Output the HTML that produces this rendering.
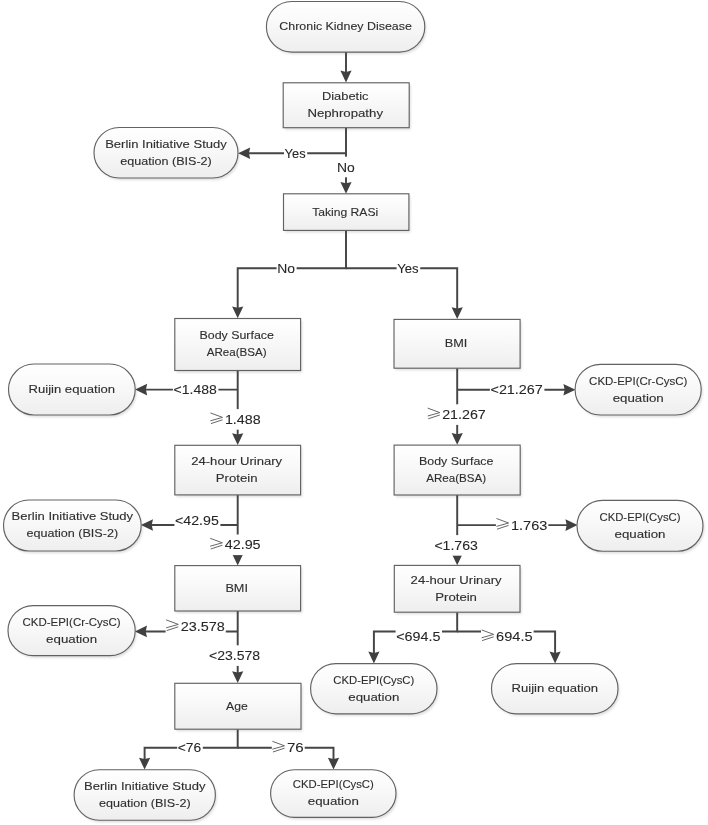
<!DOCTYPE html>
<html><head><meta charset="utf-8"><title>Flowchart</title>
<style>
html,body{margin:0;padding:0;background:#fff;}
body{width:708px;height:825px;overflow:hidden;font-family:"Liberation Sans",sans-serif;}
svg{display:block;}
svg text{font-family:"Liberation Sans",sans-serif;}
</style></head><body>
<svg width="708" height="825" viewBox="0 0 708 825">
<defs>
<linearGradient id="g" x1="0" y1="0" x2="0" y2="1"><stop offset="0" stop-color="#ffffff"/><stop offset="0.35" stop-color="#fafafa"/><stop offset="1" stop-color="#eeeeee"/></linearGradient>
<filter id="soft" x="0" y="0" width="100%" height="100%" filterUnits="userSpaceOnUse"><feGaussianBlur stdDeviation="0.38"/></filter>
<filter id="sh" x="-10%" y="-15%" width="125%" height="140%"><feGaussianBlur stdDeviation="1.1"/></filter>
</defs>
<rect width="708" height="825" fill="#fff"/>
<g filter="url(#soft)">

<g fill="#000" opacity="0.12" filter="url(#sh)">
<rect x="268.0" y="3.7" width="158.4" height="50.6" rx="25.3"/>
<rect x="284.8" y="85.0" width="126.0" height="44.9" rx="0.0"/>
<rect x="95.6" y="129.7" width="144.0" height="50.5" rx="25.2"/>
<rect x="285.1" y="196.0" width="125.4" height="36.6" rx="0.0"/>
<rect x="176.4" y="320.7" width="125.8" height="52.0" rx="0.0"/>
<rect x="395.6" y="321.6" width="126.1" height="48.8" rx="0.0"/>
<rect x="10.1" y="366.2" width="126.7" height="51.0" rx="25.5"/>
<rect x="576.7" y="366.5" width="126.1" height="50.7" rx="25.3"/>
<rect x="176.4" y="447.5" width="125.8" height="49.6" rx="0.0"/>
<rect x="395.7" y="447.3" width="126.1" height="49.9" rx="0.0"/>
<rect x="5.1" y="502.2" width="137.7" height="51.0" rx="25.5"/>
<rect x="578.6" y="502.6" width="126.0" height="50.8" rx="25.4"/>
<rect x="176.4" y="567.8" width="125.8" height="45.4" rx="0.0"/>
<rect x="395.9" y="567.6" width="125.7" height="46.8" rx="0.0"/>
<rect x="9.6" y="607.8" width="127.2" height="50.1" rx="25.1"/>
<rect x="176.4" y="685.5" width="126.2" height="45.9" rx="0.0"/>
<rect x="312.2" y="665.8" width="126.4" height="50.2" rx="25.1"/>
<rect x="493.1" y="665.8" width="126.5" height="50.2" rx="25.1"/>
<rect x="75.7" y="771.9" width="141.3" height="50.5" rx="25.2"/>
<rect x="272.2" y="771.9" width="125.4" height="47.7" rx="23.8"/>
</g>
<g fill="none" stroke="#454545" stroke-width="1.95">
<polyline points="346.0,52 346.0,76.2"/>
<polyline points="346.0,128 346.0,187.6"/>
<polyline points="346.0,153.2 244.8,153.2"/>
<polyline points="346.0,230.4 346.0,268.3 237.7,268.3 237.7,312"/>
<polyline points="346.0,268.3 457.2,268.3 457.2,312.8"/>
<polyline points="237.7,370.5 237.7,438.8"/>
<polyline points="237.7,389.6 141.8,389.6"/>
<polyline points="237.7,494.6 237.7,559.3"/>
<polyline points="237.7,525 147.6,525"/>
<polyline points="237.7,611 237.7,676.8"/>
<polyline points="237.7,631.4 141.6,631.4"/>
<polyline points="237.7,729.2 237.7,747.8 144.6,747.8 144.6,763.4"/>
<polyline points="237.7,747.8 333.5,747.8 333.5,763.4"/>
<polyline points="457.2,368.2 457.2,438.6"/>
<polyline points="457.2,389.8 568.8,389.8"/>
<polyline points="457.2,495.0 457.2,559.0"/>
<polyline points="457.2,525.1 570.8,525.1"/>
<polyline points="457.2,612.2 457.2,631.4 373.9,631.4 373.9,657.2"/>
<polyline points="457.2,631.4 555.1,631.4 555.1,657.2"/>
</g>
<g fill="#414141">
<path d="M346.0,82.4 L340.4,70.6 L346.0,71.9 L351.6,70.6 Z"/>
<path d="M346.0,193.8 L340.4,182.0 L346.0,183.3 L351.6,182.0 Z"/>
<path d="M238.1,153.2 L250.2,147.39999999999998 L248.9,153.2 L250.2,159.0 Z"/>
<path d="M237.7,318.2 L232.1,306.4 L237.7,307.7 L243.29999999999998,306.4 Z"/>
<path d="M457.2,319.0 L451.59999999999997,307.2 L457.2,308.5 L462.8,307.2 Z"/>
<path d="M237.7,445.0 L232.1,433.2 L237.7,434.5 L243.29999999999998,433.2 Z"/>
<path d="M135.1,389.6 L147.2,383.8 L145.9,389.6 L147.2,395.40000000000003 Z"/>
<path d="M237.7,565.5 L232.1,553.7 L237.7,555.0 L243.29999999999998,553.7 Z"/>
<path d="M140.9,525 L153.0,519.2 L151.7,525 L153.0,530.8 Z"/>
<path d="M237.7,683.0 L232.1,671.2 L237.7,672.5 L243.29999999999998,671.2 Z"/>
<path d="M134.9,631.4 L147.0,625.6 L145.7,631.4 L147.0,637.1999999999999 Z"/>
<path d="M144.6,769.6 L139.0,757.8 L144.6,759.1 L150.2,757.8 Z"/>
<path d="M333.5,769.6 L327.9,757.8 L333.5,759.1 L339.1,757.8 Z"/>
<path d="M457.2,444.8 L451.59999999999997,433.0 L457.2,434.3 L462.8,433.0 Z"/>
<path d="M575.5,389.8 L563.4,384.0 L564.7,389.8 L563.4,395.6 Z"/>
<path d="M457.2,565.2 L451.59999999999997,553.4 L457.2,554.7 L462.8,553.4 Z"/>
<path d="M577.5,525.1 L565.4,519.3000000000001 L566.7,525.1 L565.4,530.9 Z"/>
<path d="M373.9,663.4 L368.29999999999995,651.6 L373.9,652.9 L379.5,651.6 Z"/>
<path d="M555.1,663.4 L549.5,651.6 L555.1,652.9 L560.7,651.6 Z"/>
</g>
<g fill="url(#g)" stroke="#626262" stroke-width="1.15">
<rect x="266.4" y="1.5" width="158.4" height="50.6" rx="25.3"/>
<rect x="283.2" y="82.8" width="126.0" height="44.9" rx="0.0"/>
<rect x="94.0" y="127.5" width="144.0" height="50.5" rx="25.2"/>
<rect x="283.5" y="193.8" width="125.4" height="36.6" rx="0.0"/>
<rect x="174.8" y="318.5" width="125.8" height="52.0" rx="0.0"/>
<rect x="394.0" y="319.4" width="126.1" height="48.8" rx="0.0"/>
<rect x="8.5" y="364.0" width="126.7" height="51.0" rx="25.5"/>
<rect x="575.1" y="364.3" width="126.1" height="50.7" rx="25.3"/>
<rect x="174.8" y="445.3" width="125.8" height="49.6" rx="0.0"/>
<rect x="394.1" y="445.1" width="126.1" height="49.9" rx="0.0"/>
<rect x="3.5" y="500.0" width="137.7" height="51.0" rx="25.5"/>
<rect x="577.0" y="500.4" width="126.0" height="50.8" rx="25.4"/>
<rect x="174.8" y="565.6" width="125.8" height="45.4" rx="0.0"/>
<rect x="394.3" y="565.4" width="125.7" height="46.8" rx="0.0"/>
<rect x="8.0" y="605.6" width="127.2" height="50.1" rx="25.1"/>
<rect x="174.8" y="683.3" width="126.2" height="45.9" rx="0.0"/>
<rect x="310.6" y="663.6" width="126.4" height="50.2" rx="25.1"/>
<rect x="491.5" y="663.6" width="126.5" height="50.2" rx="25.1"/>
<rect x="74.1" y="769.7" width="141.3" height="50.5" rx="25.2"/>
<rect x="270.6" y="769.7" width="125.4" height="47.7" rx="23.8"/>
</g>
<g font-size="11.8" fill="#2e2e2e" stroke="#2e2e2e" stroke-width="0.12" text-anchor="middle">
<text x="345.6" y="30.2" textLength="132.5" lengthAdjust="spacingAndGlyphs">Chronic Kidney Disease</text>
<text x="345.2" y="100.2" textLength="46.5" lengthAdjust="spacingAndGlyphs">Diabetic</text>
<text x="345.2" y="117.2" textLength="75.6" lengthAdjust="spacingAndGlyphs">Nephropathy</text>
<text x="166.0" y="147.7" textLength="121.6" lengthAdjust="spacingAndGlyphs">Berlin Initiative Study</text>
<text x="166.0" y="164.7" textLength="91.6" lengthAdjust="spacingAndGlyphs">equation (BIS-2)</text>
<text x="345.2" y="215.5" textLength="66.0" lengthAdjust="spacingAndGlyphs">Taking RASi</text>
<text x="236.7" y="339.4" textLength="74.4" lengthAdjust="spacingAndGlyphs">Body Surface</text>
<text x="236.7" y="356.4" textLength="60.0" lengthAdjust="spacingAndGlyphs">ARea(BSA)</text>
<text x="456.1" y="347.2" textLength="22.6" lengthAdjust="spacingAndGlyphs">BMI</text>
<text x="71.8" y="392.9" textLength="86.6" lengthAdjust="spacingAndGlyphs">Ruijin equation</text>
<text x="638.2" y="384.5" textLength="98.2" lengthAdjust="spacingAndGlyphs">CKD-EPI(Cr-CysC)</text>
<text x="638.2" y="401.5" textLength="51.0" lengthAdjust="spacingAndGlyphs">equation</text>
<text x="236.7" y="465.0" textLength="91.0" lengthAdjust="spacingAndGlyphs">24-hour Urinary</text>
<text x="236.7" y="482.0" textLength="41.7" lengthAdjust="spacingAndGlyphs">Protein</text>
<text x="456.2" y="464.9" textLength="74.4" lengthAdjust="spacingAndGlyphs">Body Surface</text>
<text x="456.2" y="481.9" textLength="60.0" lengthAdjust="spacingAndGlyphs">ARea(BSA)</text>
<text x="72.3" y="520.4" textLength="121.6" lengthAdjust="spacingAndGlyphs">Berlin Initiative Study</text>
<text x="72.3" y="537.4" textLength="91.6" lengthAdjust="spacingAndGlyphs">equation (BIS-2)</text>
<text x="640.0" y="520.7" textLength="81.0" lengthAdjust="spacingAndGlyphs">CKD-EPI(CysC)</text>
<text x="640.0" y="537.7" textLength="51.0" lengthAdjust="spacingAndGlyphs">equation</text>
<text x="236.7" y="591.7" textLength="22.6" lengthAdjust="spacingAndGlyphs">BMI</text>
<text x="456.1" y="583.7" textLength="91.0" lengthAdjust="spacingAndGlyphs">24-hour Urinary</text>
<text x="456.1" y="600.7" textLength="41.7" lengthAdjust="spacingAndGlyphs">Protein</text>
<text x="71.6" y="625.6" textLength="98.2" lengthAdjust="spacingAndGlyphs">CKD-EPI(Cr-CysC)</text>
<text x="71.6" y="642.6" textLength="51.0" lengthAdjust="spacingAndGlyphs">equation</text>
<text x="236.9" y="709.6" textLength="21.7" lengthAdjust="spacingAndGlyphs">Age</text>
<text x="373.8" y="683.6" textLength="81.0" lengthAdjust="spacingAndGlyphs">CKD-EPI(CysC)</text>
<text x="373.8" y="700.6" textLength="51.0" lengthAdjust="spacingAndGlyphs">equation</text>
<text x="554.8" y="692.1" textLength="86.6" lengthAdjust="spacingAndGlyphs">Ruijin equation</text>
<text x="144.8" y="789.9" textLength="121.6" lengthAdjust="spacingAndGlyphs">Berlin Initiative Study</text>
<text x="144.8" y="806.9" textLength="91.6" lengthAdjust="spacingAndGlyphs">equation (BIS-2)</text>
<text x="333.3" y="788.4" textLength="81.0" lengthAdjust="spacingAndGlyphs">CKD-EPI(CysC)</text>
<text x="333.3" y="805.4" textLength="51.0" lengthAdjust="spacingAndGlyphs">equation</text>
</g>
<g fill="#fff">
<rect x="284.0" y="142.9" width="23.2" height="20.6"/>
<rect x="336.4" y="156.7" width="20.0" height="20.6"/>
<rect x="276.6" y="257.8" width="20.0" height="20.6"/>
<rect x="396.6" y="257.8" width="23.6" height="20.6"/>
<rect x="172.9" y="378.7" width="45.5" height="20.6"/>
<rect x="209.8" y="409.1" width="51.9" height="20.6"/>
<rect x="174.4" y="509.9" width="46.0" height="20.6"/>
<rect x="209.6" y="534.5" width="52.0" height="20.6"/>
<rect x="165.6" y="616.1" width="60.2" height="20.6"/>
<rect x="208.4" y="645.3" width="53.4" height="20.6"/>
<rect x="177.2" y="737.5" width="25.6" height="20.6"/>
<rect x="271.8" y="737.5" width="32.9" height="20.6"/>
<rect x="489.9" y="379.1" width="54.5" height="20.6"/>
<rect x="427.1" y="404.3" width="59.7" height="20.6"/>
<rect x="495.9" y="514.7" width="52.4" height="20.6"/>
<rect x="433.8" y="535.1" width="45.7" height="20.6"/>
<rect x="395.6" y="626.1" width="46.4" height="20.6"/>
<rect x="481.0" y="626.1" width="52.6" height="20.6"/>
</g>
<g font-size="12.5" fill="#262626" stroke="#262626" stroke-width="0.08">
<text x="284.6" y="157.7" textLength="21.0" lengthAdjust="spacingAndGlyphs">Yes</text>
<text x="337.0" y="171.5" textLength="17.8" lengthAdjust="spacingAndGlyphs">No</text>
<text x="277.2" y="272.6" textLength="17.8" lengthAdjust="spacingAndGlyphs">No</text>
<text x="397.2" y="272.6" textLength="21.4" lengthAdjust="spacingAndGlyphs">Yes</text>
<text x="173.5" y="393.5" textLength="43.3" lengthAdjust="spacingAndGlyphs">&lt;1.488</text>
<path d="M210.4,412.9 L222.5,417.4 L210.4,420.8 M222.5,419.8 L210.9,423.6" fill="none" stroke="#5e5e5e" stroke-width="0.95"/>
<text x="224.9" y="423.9" textLength="35.8" lengthAdjust="spacingAndGlyphs">1.488</text>
<text x="175.0" y="524.7" textLength="43.8" lengthAdjust="spacingAndGlyphs">&lt;42.95</text>
<path d="M210.2,538.3 L222.3,542.8 L210.2,546.2 M222.3,545.2 L210.7,549.0" fill="none" stroke="#5e5e5e" stroke-width="0.95"/>
<text x="224.7" y="549.3" textLength="35.9" lengthAdjust="spacingAndGlyphs">42.95</text>
<path d="M166.2,619.9 L178.3,624.4 L166.2,627.8 M178.3,626.8 L166.7,630.6" fill="none" stroke="#5e5e5e" stroke-width="0.95"/>
<text x="180.7" y="630.9" textLength="44.1" lengthAdjust="spacingAndGlyphs">23.578</text>
<text x="209.0" y="660.1" textLength="51.2" lengthAdjust="spacingAndGlyphs">&lt;23.578</text>
<text x="177.8" y="752.3" textLength="23.4" lengthAdjust="spacingAndGlyphs">&lt;76</text>
<path d="M272.4,741.3 L284.5,745.8 L272.4,749.2 M284.5,748.2 L272.9,752.0" fill="none" stroke="#5e5e5e" stroke-width="0.95"/>
<text x="286.9" y="752.3" textLength="16.8" lengthAdjust="spacingAndGlyphs">76</text>
<text x="490.5" y="393.9" textLength="52.3" lengthAdjust="spacingAndGlyphs">&lt;21.267</text>
<path d="M427.7,408.1 L439.8,412.6 L427.7,416.0 M439.8,415.0 L428.2,418.8" fill="none" stroke="#5e5e5e" stroke-width="0.95"/>
<text x="442.2" y="419.1" textLength="43.6" lengthAdjust="spacingAndGlyphs">21.267</text>
<path d="M496.5,518.5 L508.6,523.0 L496.5,526.4 M508.6,525.4 L497.0,529.2" fill="none" stroke="#5e5e5e" stroke-width="0.95"/>
<text x="511.0" y="529.5" textLength="36.3" lengthAdjust="spacingAndGlyphs">1.763</text>
<text x="434.4" y="549.9" textLength="43.5" lengthAdjust="spacingAndGlyphs">&lt;1.763</text>
<text x="396.2" y="640.9" textLength="44.2" lengthAdjust="spacingAndGlyphs">&lt;694.5</text>
<path d="M481.6,629.9 L493.7,634.4 L481.6,637.8 M493.7,636.8 L482.1,640.6" fill="none" stroke="#5e5e5e" stroke-width="0.95"/>
<text x="496.1" y="640.9" textLength="36.5" lengthAdjust="spacingAndGlyphs">694.5</text>
</g>
</g></svg></body></html>
